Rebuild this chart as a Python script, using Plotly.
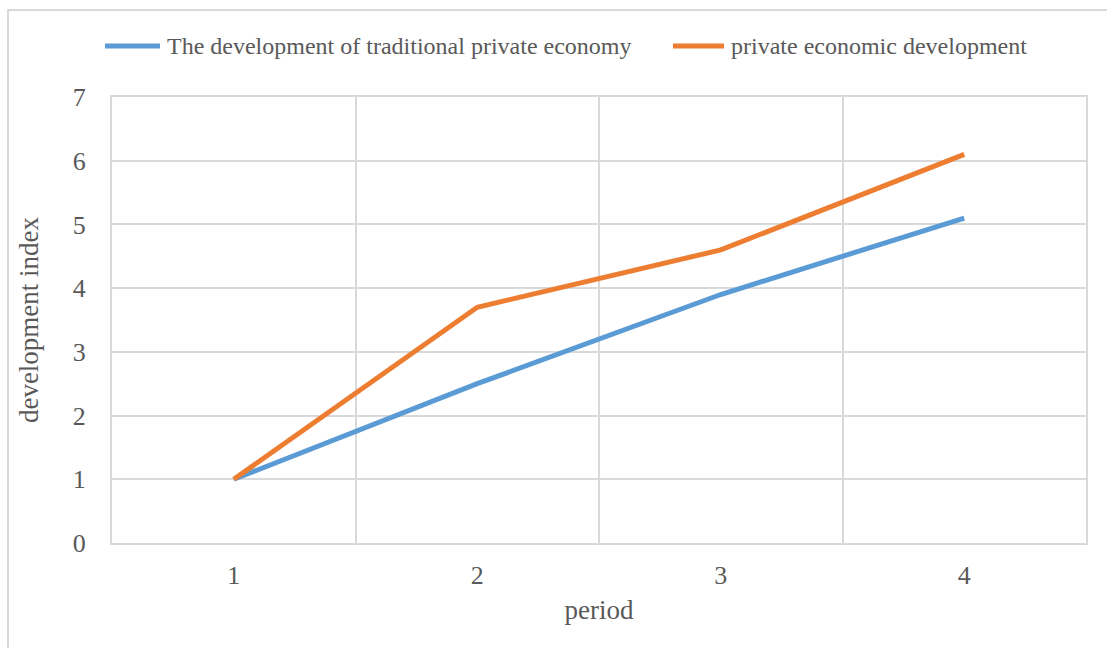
import plotly.graph_objects as go

# Series data
periods = [1, 2, 3, 4]
period_labels = ["1", "2", "3", "4"]
traditional = [1.0, 2.5, 3.9, 5.1]
private = [1.0, 3.7, 4.6, 6.1]
series_names = ["The development of traditional private economy", "private economic development"]
series_colors = ["#5B9BD5", "#ED7D31"]
y_ticks = [0, 1, 2, 3, 4, 5, 6, 7]

W, H = 1107, 648
L, R, T, B = 112, 21, 97, 105
pw, ph = W - L - R, H - T - B

def px_x(p):
    return (p - L) / pw

def px_y(p):
    return (H - B - p) / ph

FONT = "Liberation Serif, Times New Roman, serif"
TXT = "#595959"
GRID = "#D9D9D9"

fig = go.Figure()
for name, vals, col in zip(series_names, [traditional, private], series_colors):
    fig.add_trace(go.Scatter(x=periods, y=vals, mode="lines", name=name,
                             line=dict(color=col, width=5), showlegend=False))

shapes = []
annotations = []
# Outer chart frame
shapes.append(dict(type="rect", xref="paper", yref="paper",
                   x0=px_x(8), x1=px_x(1120), y0=px_y(660), y1=px_y(10),
                   line=dict(color="#D9D9D9", width=2), layer="below"))

# Legend drawn in the header row
legend_pos = [(105, 160, 165), (673, 724, 729)]
for (x0, x1, tx), name, col in zip(legend_pos, series_names, series_colors):
    shapes.append(dict(type="line", xref="paper", yref="paper",
                       x0=px_x(x0), x1=px_x(x1), y0=px_y(46), y1=px_y(46),
                       line=dict(color=col, width=5)))
    annotations.append(dict(xref="paper", yref="paper", x=px_x(tx), y=px_y(46),
                            text=name, showarrow=False, xanchor="left", yanchor="middle",
                            font=dict(family=FONT, size=24, color=TXT)))

fig.update_layout(
    width=W, height=H,
    margin=dict(l=L, r=R, t=T, b=B),
    paper_bgcolor="white", plot_bgcolor="white",
    shapes=shapes, annotations=annotations,
    font=dict(family=FONT, size=26, color=TXT),
    xaxis=dict(range=[0.5, 4.5], tickvals=periods, ticktext=period_labels,
               showgrid=False, zeroline=False,
               showline=True, linecolor=GRID, linewidth=2, mirror=True,
               ticks="", ticklabelstandoff=8,
               minor=dict(tickvals=[0.5, 1.5, 2.5, 3.5, 4.5], showgrid=True,
                          gridcolor=GRID, gridwidth=2),
               title=dict(text="period", font=dict(family=FONT, size=27, color=TXT), standoff=11)),
    yaxis=dict(range=[0, 7], tickvals=y_ticks, showgrid=True, gridcolor=GRID, gridwidth=2,
               zeroline=False, showline=True, linecolor=GRID, linewidth=2, mirror=True,
               ticks="", ticklabelstandoff=19,
               title=dict(text="development index", font=dict(family=FONT, size=27, color=TXT), standoff=26)),
)

fig.write_html("out.html")
